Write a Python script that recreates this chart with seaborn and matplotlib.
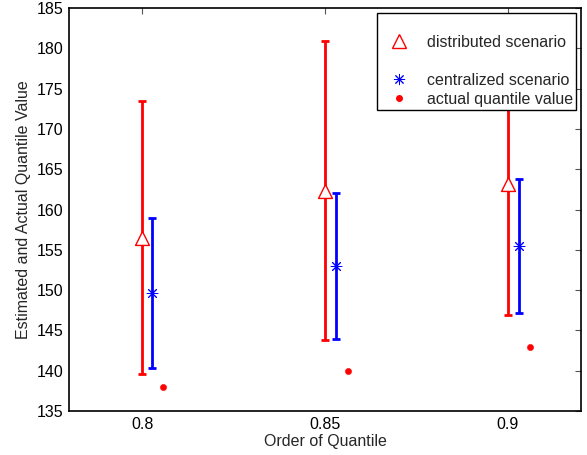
import matplotlib
matplotlib.use("Agg")
import matplotlib.pyplot as plt
from matplotlib.lines import Line2D
import seaborn as sns
import pandas as pd

# values
quantile_order = [0.8, 0.85, 0.9]
dist_mean = [156.5, 162.35, 163.2]
dist_half = [16.9, 18.55, 16.3]

cent_x = [0.8028, 0.8531, 0.9031]
cent_mean = [149.65, 153.0, 155.5]
cent_half = [9.35, 9.1, 8.3]

actual_x = [0.8058, 0.8562, 0.906]
actual_value = [138.0, 140.0, 143.0]

y_ticks = [135, 140, 145, 150, 155, 160, 165, 170, 175, 180, 185]
x_ticks = [0.8, 0.85, 0.9]
x_tick_labels = ["0.8", "0.85", "0.9"]

STAR = (8, 2, 0)


def main():
    sns.set_style("white")
    plt.rcParams['font.family'] = ['Liberation Sans', 'DejaVu Sans']
    plt.rcParams['font.size'] = 11.5

    fig = plt.figure(figsize=(5.87, 4.55), dpi=100)
    ax = fig.add_axes([69 / 587, 44 / 455, 512 / 587, 403 / 455])

    # error bars
    ax.errorbar(quantile_order, dist_mean, yerr=dist_half, fmt='none',
                ecolor='red', elinewidth=2, capsize=3, capthick=2)
    ax.errorbar(cent_x, cent_mean, yerr=cent_half, fmt='none',
                ecolor='blue', elinewidth=2, capsize=3, capthick=2)

    dist_df = pd.DataFrame({'x': quantile_order, 'y': dist_mean})
    cent_df = pd.DataFrame({'x': cent_x, 'y': cent_mean})
    act_df = pd.DataFrame({'x': actual_x, 'y': actual_value})

    sns.scatterplot(data=dist_df, x='x', y='y', ax=ax, marker='^', s=100,
                    facecolor='white', edgecolor='red', linewidth=1.0,
                    zorder=3)
    sns.scatterplot(data=cent_df, x='x', y='y', ax=ax, marker=STAR,
                    s=60, color='blue', edgecolor='blue', linewidth=0.7,
                    zorder=3)
    sns.scatterplot(data=act_df, x='x', y='y', ax=ax, marker='o', s=20,
                    color='red', edgecolor='red', zorder=3)

    ax.set_xlim(0.78, 0.92)
    ax.set_ylim(135, 185)
    ax.set_xticks(x_ticks)
    ax.set_xticklabels(x_tick_labels)
    ax.set_yticks(y_ticks)
    ax.set_xlabel('Order of Quantile', labelpad=2)
    ax.set_ylabel('Estimated and Actual Quantile Value', labelpad=4)

    ax.tick_params(direction='in', length=4, width=0.8, top=True,
                   right=True, labelsize=11.5, pad=4)
    ax.tick_params(axis='both', colors='#555555', labelcolor='black')
    for sp in ax.spines.values():
        sp.set_visible(True)
        sp.set_color('black')
        sp.set_linewidth(1.2)

    blank = Line2D([], [], linestyle='none', marker=None)
    handles = [
        blank,
        Line2D([], [], linestyle='none', marker='^', markersize=10,
               markerfacecolor='white', markeredgecolor='red'),
        blank,
        Line2D([], [], linestyle='none', marker=STAR, markersize=8,
               markeredgewidth=0.7, color='blue'),
        Line2D([], [], linestyle='none', marker='o', markersize=4,
               color='red'),
    ]
    labels = ['', 'distributed scenario', '', 'centralized scenario',
              'actual quantile value']
    leg = ax.legend(handles, labels, loc='upper right',
                    bbox_to_anchor=(0.99, 0.988), frameon=True,
                    fancybox=False, edgecolor='black', framealpha=1,
                    borderpad=0.2, labelspacing=0.25, handlelength=2.3,
                    handletextpad=0.6, borderaxespad=0)
    leg.get_frame().set_linewidth(1.0)

    plt.savefig('out.png', dpi=100)
    plt.close()


if __name__ == "__main__":
    main()
